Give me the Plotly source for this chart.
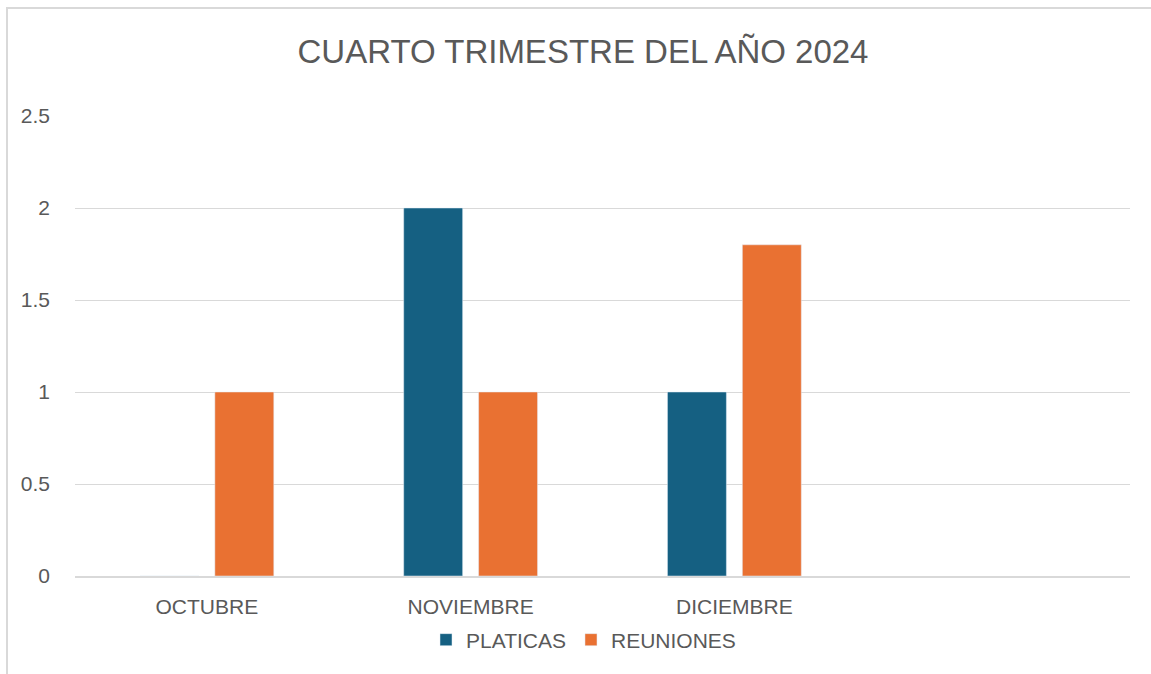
import plotly.graph_objects as go

categories = ["OCTUBRE", "NOVIEMBRE", "DICIEMBRE"]
platicas = [0, 2, 1]
reuniones = [1, 1, 1.8]

W, H = 1151, 674
L, R, T, B = 75, 21, 116, 98
pw, ph = W - L - R, H - T - B

def px(x):
    return (x - L) / pw

def py(y):
    return (H - B - y) / ph

fig = go.Figure()
fig.add_trace(go.Bar(name="PLATICAS", x=categories, y=platicas, marker_color="#156082"))
fig.add_trace(go.Bar(name="REUNIONES", x=categories, y=reuniones, marker_color="#E97132"))

font_fam = "Liberation Sans, Arial, sans-serif"
fig.update_layout(
    width=W, height=H,
    margin=dict(l=L, r=R, t=T, b=B),
    paper_bgcolor="white", plot_bgcolor="white",
    barmode="group", bargap=0.432, bargroupgap=0.213,
    title=dict(text="CUARTO TRIMESTRE DEL AÑO 2024", x=583 / W, xanchor="center",
               y=1 - 51 / H, yanchor="middle",
               font=dict(family=font_fam, size=33, color="#595959")),
    font=dict(family=font_fam, size=21, color="#595959"),
    xaxis=dict(type="category", range=[-0.5, 3.5], showgrid=False,
               showline=True, linecolor="#d9d9d9", linewidth=2,
               ticks="", ticklabelstandoff=11,
               tickfont=dict(size=21, color="#595959")),
    yaxis=dict(range=[0, 2.5], dtick=0.5, showgrid=True, gridcolor="#d9d9d9",
               gridwidth=1, zeroline=False, showline=False, ticks="",
               ticklabelstandoff=24, tickfont=dict(size=21, color="#595959")),
    legend=dict(orientation="h", x=0.5 - 19 / pw, xanchor="center", y=py(640), yanchor="middle",
                font=dict(size=21, color="#595959"), itemwidth=30,
                traceorder="normal"),
    showlegend=True,
)
fig.add_shape(type="rect", xref="paper", yref="paper",
              x0=px(7), x1=px(1170), y0=py(690), y1=py(8),
              line=dict(color="#d9d9d9", width=2), fillcolor="rgba(0,0,0,0)", layer="below")

fig.write_html("out.html", config={"displayModeBar": False},
               post_script="document.body.style.margin='0';document.body.style.overflow='hidden';")
